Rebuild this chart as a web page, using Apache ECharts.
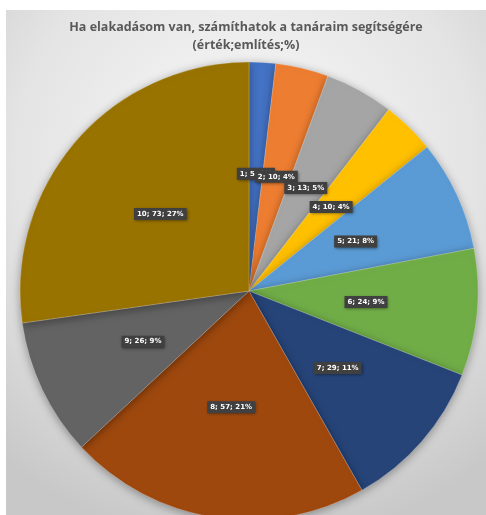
<!DOCTYPE html>
<html>
<head>
<meta charset="utf-8">
<script src="https://cdn.jsdelivr.net/npm/echarts@6/dist/echarts.min.js"></script>
<style>
  html, body { margin: 0; padding: 0; background: #ffffff; }
  #chart { position: absolute; left: 6px; top: 10px; width: 480px; height: 505px; }
</style>
</head>
<body>
<div id="chart"></div>
<script>
// Answer scale values (érték), number of mentions (említés) and rounded shares (%)
const categories = ['1', '2', '3', '4', '5', '6', '7', '8', '9', '10'];
const mentions = [5, 10, 13, 10, 21, 24, 29, 57, 26, 73];
const percentLabels = [2, 4, 5, 4, 8, 9, 11, 21, 9, 27];
const sliceColors = ['#4472C4', '#ED7D31', '#A5A5A5', '#FFC000', '#5B9BD5',
                     '#70AD47', '#264478', '#9E480E', '#636363', '#997300'];

const chart = echarts.init(document.getElementById('chart'));

const pieData = categories.map((c, i) => ({
  name: c,
  value: mentions[i],
  pct: percentLabels[i],
  itemStyle: { color: sliceColors[i] }
}));

chart.setOption({
  backgroundColor: {
    type: 'radial', x: 0.5, y: 0.3, r: 0.8,
    colorStops: [
      { offset: 0, color: '#f9f9f9' },
      { offset: 0.6, color: '#e4e4e4' },
      { offset: 1, color: '#c8c8c8' }
    ]
  },
  title: {
    text: 'Ha elakadásom van, számíthatok a tanáraim segítségére\n(érték;említés;%)',
    left: 'center',
    top: 3,
    textStyle: {
      fontFamily: 'Open Sans',
      fontSize: 12.5,
      fontWeight: 'bold',
      color: '#595959',
      lineHeight: 18
    }
  },
  series: [{
    type: 'pie',
    center: [243, 281],
    radius: 229,
    startAngle: 90,
    clockwise: true,
    animation: false,
    data: pieData,
    itemStyle: {
      borderColor: 'rgba(255,255,255,0.35)',
      borderWidth: 0.6,
      shadowBlur: 10,
      shadowColor: 'rgba(0,0,0,0.35)',
      shadowOffsetY: 2
    },
    label: {
      position: 'inside',
      formatter: p => `${p.name}; ${p.value}; ${p.data.pct}%`,
      fontFamily: 'DejaVu Sans',
      fontSize: 7,
      fontWeight: 'bold',
      color: '#ffffff',
      backgroundColor: '#404040',
      padding: [3, 3, 2, 3],
      shadowBlur: 3,
      shadowColor: 'rgba(0,0,0,0.5)',
      shadowOffsetX: 1,
      shadowOffsetY: 1
    },
    labelLayout: { hideOverlap: false },
    labelLine: { show: false },
    emphasis: { disabled: true }
  }]
});
</script>
</body>
</html>
